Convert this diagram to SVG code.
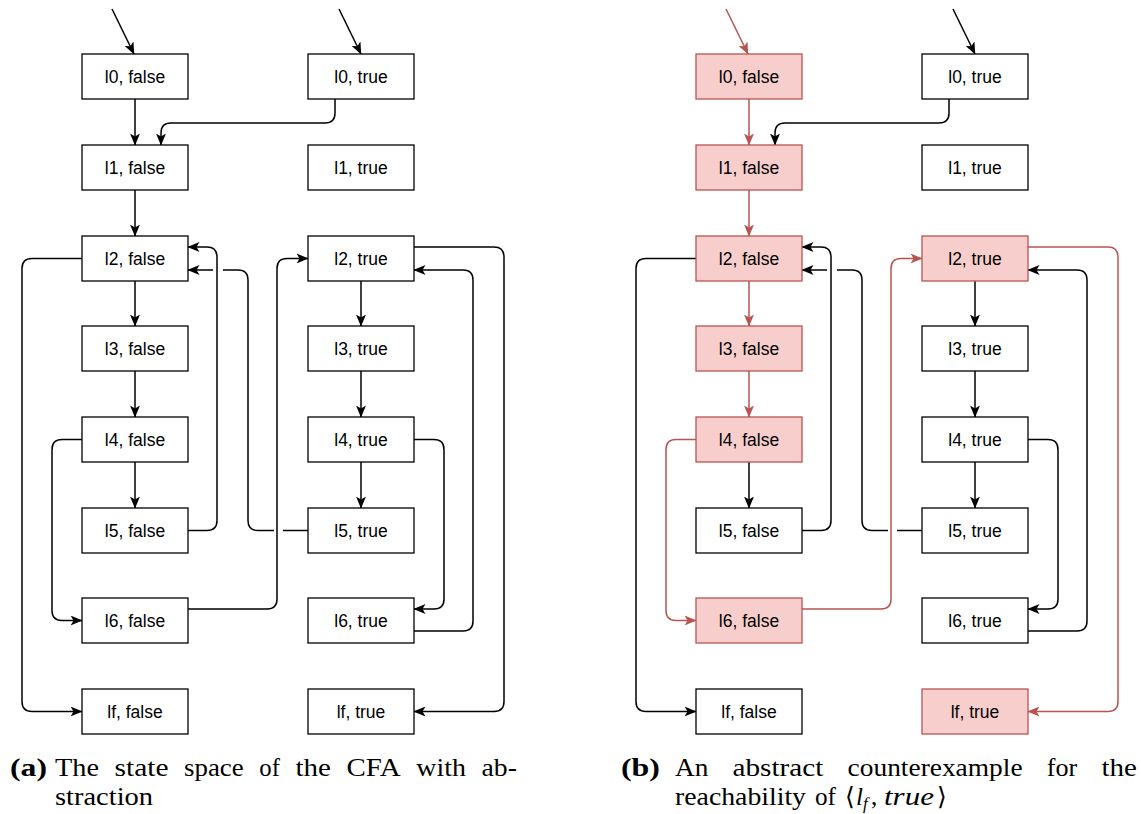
<svg xmlns="http://www.w3.org/2000/svg" width="1141" height="814" viewBox="0 0 1141 814">
  <style>
    .node rect { fill: #ffffff; stroke: #000000; stroke-width: 1.3; }
    .node.hl rect { fill: #f8cecc; stroke: #b85450; }
    .node text { font-family: "Liberation Sans", Arial, sans-serif; font-size: 17.5px; fill: #000000; text-anchor: middle; }
    .edge { fill: none; stroke: #000000; stroke-width: 1.5; marker-end: url(#arrow); }
    .edge.hl { stroke: #b85450; marker-end: url(#arrow-red); }
    .cap { font-family: "Liberation Serif", "Times New Roman", serif; font-size: 25px; fill: #000000; }
    .cap .b { font-weight: bold; }
    .math { font-family: "Liberation Serif", "DejaVu Serif", serif; }
    .it { font-style: italic; }
  </style>
  <defs>
    <marker id="arrow" markerUnits="userSpaceOnUse" viewBox="0 0 12 10" markerWidth="12" markerHeight="10" refX="11.5" refY="5" orient="auto">
      <path d="M0,0 L12,5 L0,10 L3,5 Z" fill="#000000"/>
    </marker>
    <marker id="arrow-red" markerUnits="userSpaceOnUse" viewBox="0 0 12 10" markerWidth="12" markerHeight="10" refX="11.5" refY="5" orient="auto">
      <path d="M0,0 L12,5 L0,10 L3,5 Z" fill="#b85450"/>
    </marker>
  </defs>
  <rect x="0" y="0" width="1141" height="814" fill="#ffffff"/>

  <!-- (a) state space -->
  <g id="panel-a">
    <g id="connectors-a">
      <path class="edge" d="M112,9 L134,54"/>
      <path class="edge" d="M339,9 L361,54"/>
      <path class="edge" d="M135,99 V145"/>
      <path class="edge" d="M335,99 V113 Q335,123 325,123 H171 Q161,123 161,133 V145"/>
      <path class="edge" d="M135,190 V236"/>
      <path class="edge" d="M135,281 V326"/>
      <path class="edge" d="M135,371 V417"/>
      <path class="edge" d="M135,462 V508"/>
      <path class="edge" d="M82,258.5 H32 Q22,258.5 22,268.5 V701.5 Q22,711.5 32,711.5 H82"/>
      <path class="edge" d="M82,439.5 H62 Q52,439.5 52,449.5 V610.5 Q52,620.5 62,620.5 H82"/>
      <path class="edge" d="M188,530.5 H207 Q217,530.5 217,520.5 V257 Q217,247 207,247 H188"/>
      <path class="edge" d="M308,530.5 H283 M274,530.5 H258 Q248,530.5 248,520.5 V280 Q248,270 238,270 H223 M213,270 H188"/>
      <path class="edge" d="M188,609 H267 Q277,609 277,599 V268.5 Q277,258.5 287,258.5 H308"/>
      <path class="edge" d="M361,281 V326"/>
      <path class="edge" d="M361,371 V417"/>
      <path class="edge" d="M361,462 V508"/>
      <path class="edge" d="M414,247 H494 Q504,247 504,257 V701.5 Q504,711.5 494,711.5 H414"/>
      <path class="edge" d="M414,631 H463 Q473,631 473,621 V280 Q473,270 463,270 H414"/>
      <path class="edge" d="M414,439.5 H434 Q444,439.5 444,449.5 V599 Q444,609 434,609 H414"/>
    </g>
    <g id="a-l0-false" class="node"><rect x="82" y="54" width="106" height="45"/><text x="135" y="83">l0, false</text></g>
    <g id="a-l0-true" class="node"><rect x="308" y="54" width="106" height="45"/><text x="361" y="83">l0, true</text></g>
    <g id="a-l1-false" class="node"><rect x="82" y="145" width="106" height="45"/><text x="135" y="174">l1, false</text></g>
    <g id="a-l1-true" class="node"><rect x="308" y="145" width="106" height="45"/><text x="361" y="174">l1, true</text></g>
    <g id="a-l2-false" class="node"><rect x="82" y="236" width="106" height="45"/><text x="135" y="265">l2, false</text></g>
    <g id="a-l2-true" class="node"><rect x="308" y="236" width="106" height="45"/><text x="361" y="265">l2, true</text></g>
    <g id="a-l3-false" class="node"><rect x="82" y="326" width="106" height="45"/><text x="135" y="355">l3, false</text></g>
    <g id="a-l3-true" class="node"><rect x="308" y="326" width="106" height="45"/><text x="361" y="355">l3, true</text></g>
    <g id="a-l4-false" class="node"><rect x="82" y="417" width="106" height="45"/><text x="135" y="446">l4, false</text></g>
    <g id="a-l4-true" class="node"><rect x="308" y="417" width="106" height="45"/><text x="361" y="446">l4, true</text></g>
    <g id="a-l5-false" class="node"><rect x="82" y="508" width="106" height="45"/><text x="135" y="537">l5, false</text></g>
    <g id="a-l5-true" class="node"><rect x="308" y="508" width="106" height="45"/><text x="361" y="537">l5, true</text></g>
    <g id="a-l6-false" class="node"><rect x="82" y="598" width="106" height="45"/><text x="135" y="627">l6, false</text></g>
    <g id="a-l6-true" class="node"><rect x="308" y="598" width="106" height="45"/><text x="361" y="627">l6, true</text></g>
    <g id="a-lf-false" class="node"><rect x="82" y="689" width="106" height="45"/><text x="135" y="718">lf, false</text></g>
    <g id="a-lf-true" class="node"><rect x="308" y="689" width="106" height="45"/><text x="361" y="718">lf, true</text></g>
  </g>

  <!-- (b) abstract counterexample, same layout shifted right -->
  <g id="panel-b" transform="translate(614,0)">
    <g id="connectors-b">
      <path class="edge hl" d="M112,9 L134,54"/>
      <path class="edge" d="M339,9 L361,54"/>
      <path class="edge hl" d="M135,99 V145"/>
      <path class="edge" d="M335,99 V113 Q335,123 325,123 H171 Q161,123 161,133 V145"/>
      <path class="edge hl" d="M135,190 V236"/>
      <path class="edge hl" d="M135,281 V326"/>
      <path class="edge hl" d="M135,371 V417"/>
      <path class="edge" d="M135,462 V508"/>
      <path class="edge" d="M82,258.5 H32 Q22,258.5 22,268.5 V701.5 Q22,711.5 32,711.5 H82"/>
      <path class="edge hl" d="M82,439.5 H62 Q52,439.5 52,449.5 V610.5 Q52,620.5 62,620.5 H82"/>
      <path class="edge" d="M188,530.5 H207 Q217,530.5 217,520.5 V257 Q217,247 207,247 H188"/>
      <path class="edge" d="M308,530.5 H283 M274,530.5 H258 Q248,530.5 248,520.5 V280 Q248,270 238,270 H223 M213,270 H188"/>
      <path class="edge hl" d="M188,609 H267 Q277,609 277,599 V268.5 Q277,258.5 287,258.5 H308"/>
      <path class="edge" d="M361,281 V326"/>
      <path class="edge" d="M361,371 V417"/>
      <path class="edge" d="M361,462 V508"/>
      <path class="edge hl" d="M414,247 H494 Q504,247 504,257 V701.5 Q504,711.5 494,711.5 H414"/>
      <path class="edge" d="M414,631 H463 Q473,631 473,621 V280 Q473,270 463,270 H414"/>
      <path class="edge" d="M414,439.5 H434 Q444,439.5 444,449.5 V599 Q444,609 434,609 H414"/>
    </g>
    <g id="b-l0-false" class="node hl"><rect x="82" y="54" width="106" height="45"/><text x="135" y="83">l0, false</text></g>
    <g id="b-l0-true" class="node"><rect x="308" y="54" width="106" height="45"/><text x="361" y="83">l0, true</text></g>
    <g id="b-l1-false" class="node hl"><rect x="82" y="145" width="106" height="45"/><text x="135" y="174">l1, false</text></g>
    <g id="b-l1-true" class="node"><rect x="308" y="145" width="106" height="45"/><text x="361" y="174">l1, true</text></g>
    <g id="b-l2-false" class="node hl"><rect x="82" y="236" width="106" height="45"/><text x="135" y="265">l2, false</text></g>
    <g id="b-l2-true" class="node hl"><rect x="308" y="236" width="106" height="45"/><text x="361" y="265">l2, true</text></g>
    <g id="b-l3-false" class="node hl"><rect x="82" y="326" width="106" height="45"/><text x="135" y="355">l3, false</text></g>
    <g id="b-l3-true" class="node"><rect x="308" y="326" width="106" height="45"/><text x="361" y="355">l3, true</text></g>
    <g id="b-l4-false" class="node hl"><rect x="82" y="417" width="106" height="45"/><text x="135" y="446">l4, false</text></g>
    <g id="b-l4-true" class="node"><rect x="308" y="417" width="106" height="45"/><text x="361" y="446">l4, true</text></g>
    <g id="b-l5-false" class="node"><rect x="82" y="508" width="106" height="45"/><text x="135" y="537">l5, false</text></g>
    <g id="b-l5-true" class="node"><rect x="308" y="508" width="106" height="45"/><text x="361" y="537">l5, true</text></g>
    <g id="b-l6-false" class="node hl"><rect x="82" y="598" width="106" height="45"/><text x="135" y="627">l6, false</text></g>
    <g id="b-l6-true" class="node"><rect x="308" y="598" width="106" height="45"/><text x="361" y="627">l6, true</text></g>
    <g id="b-lf-false" class="node"><rect x="82" y="689" width="106" height="45"/><text x="135" y="718">lf, false</text></g>
    <g id="b-lf-true" class="node hl"><rect x="308" y="689" width="106" height="45"/><text x="361" y="718">lf, true</text></g>
  </g>

  <!-- sub-captions, justified word by word -->
  <g id="caption-a" class="cap">
    <text x="10" y="776" class="b" textLength="37" lengthAdjust="spacingAndGlyphs">(a)</text>
    <text x="55" y="776" textLength="44" lengthAdjust="spacingAndGlyphs">The</text>
    <text x="114.5" y="776" textLength="54" lengthAdjust="spacingAndGlyphs">state</text>
    <text x="184.1" y="776" textLength="59.6" lengthAdjust="spacingAndGlyphs">space</text>
    <text x="259.3" y="776" textLength="20.6" lengthAdjust="spacingAndGlyphs">of</text>
    <text x="295.5" y="776" textLength="35.4" lengthAdjust="spacingAndGlyphs">the</text>
    <text x="346.5" y="776" textLength="54.2" lengthAdjust="spacingAndGlyphs">CFA</text>
    <text x="416.3" y="776" textLength="49.6" lengthAdjust="spacingAndGlyphs">with</text>
    <text x="481.5" y="776" textLength="35.4" lengthAdjust="spacingAndGlyphs">ab-</text>
    <text x="55" y="805" textLength="98" lengthAdjust="spacingAndGlyphs">straction</text>
  </g>
  <g id="caption-b" class="cap">
    <text x="621" y="776" class="b" textLength="39" lengthAdjust="spacingAndGlyphs">(b)</text>
    <text x="675" y="776" textLength="33.3" lengthAdjust="spacingAndGlyphs">An</text>
    <text x="732.5" y="776" textLength="90.9" lengthAdjust="spacingAndGlyphs">abstract</text>
    <text x="847.6" y="776" textLength="175" lengthAdjust="spacingAndGlyphs">counterexample</text>
    <text x="1046.8" y="776" textLength="30.5" lengthAdjust="spacingAndGlyphs">for</text>
    <text x="1101.5" y="776" textLength="35.4" lengthAdjust="spacingAndGlyphs">the</text>
    <text x="675" y="805" textLength="131" lengthAdjust="spacingAndGlyphs">reachability</text>
    <text x="815" y="805" textLength="21" lengthAdjust="spacingAndGlyphs">of</text>
    <text x="845" y="805" class="math">⟨</text>
    <text x="856" y="805" class="it">l</text>
    <text x="863" y="809" class="it" font-size="17px">f</text>
    <text x="871" y="805">,</text>
    <text x="884" y="805" class="it" textLength="50" lengthAdjust="spacingAndGlyphs">true</text>
    <text x="937" y="805" class="math">⟩</text>
  </g>
</svg>
